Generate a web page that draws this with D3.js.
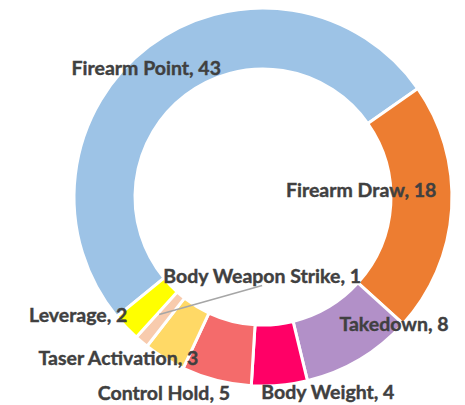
<!DOCTYPE html>
<html>
<head>
<meta charset="utf-8">
<script src="https://cdn.jsdelivr.net/npm/d3@7"></script>
<style>
  html, body { margin: 0; padding: 0; background: #fff; }
  svg { display: block; }
</style>
</head>
<body>
<svg id="chart" width="465" height="405"></svg>
<script>
const categories = ["Firearm Point", "Firearm Draw", "Takedown", "Body Weight",
  "Control Hold", "Taser Activation", "Body Weapon Strike", "Leverage"];
const values = [43, 18, 8, 4, 5, 3, 1, 2];
const colors = ["#9DC3E6", "#ED7D31", "#B290C8", "#FF0066",
  "#F46B6B", "#FFD966", "#F8CBAD", "#FFFF00"];

// label nudges from the slice centroid (layout only)
const labelShift = [[-21, -3], [-60, -17], [50, -10], [51, 37],
  [-60, 42], [-62, 25], [101, -43], [-70, 8]];

const width = 465, height = 405,
  cx = 263, cy = 197,
  outerR = 189, innerR = 128;

const svg = d3.select("#chart");
const g = svg.append("g").attr("transform", "translate(" + cx + "," + cy + ")");

const start = -129.3 * Math.PI / 180;
const pie = d3.pie().sort(null).value(d => d.value)
  .startAngle(start).endAngle(start + 2 * Math.PI);
const arc = d3.arc().innerRadius(innerR).outerRadius(outerR);

const data = categories.map((c, i) => ({ name: c, value: values[i], color: colors[i], shift: labelShift[i] }));
const arcs = pie(data);

g.selectAll("path.slice")
  .data(arcs)
  .join("path")
  .attr("class", "slice")
  .attr("d", arc)
  .attr("fill", d => d.data.color)
  .attr("stroke", "#fff")
  .attr("stroke-width", 3);

// leader line for the tiny slice
arcs.filter(d => d.data.name === "Body Weapon Strike").forEach(d => {
  const c = arc.centroid(d);
  g.append("line")
    .attr("x1", c[0] - 2).attr("y1", c[1] - 4)
    .attr("x2", c[0] + d.data.shift[0]).attr("y2", c[1] + d.data.shift[1] + 10)
    .attr("stroke", "#A6A6A6")
    .attr("stroke-width", 1.5);
});

g.selectAll("text.lbl")
  .data(arcs)
  .join("text")
  .attr("class", "lbl")
  .attr("x", d => arc.centroid(d)[0] + d.data.shift[0])
  .attr("y", d => arc.centroid(d)[1] + d.data.shift[1])
  .attr("text-anchor", "middle")
  .attr("dominant-baseline", "central")
  .attr("font-family", "Lato, 'Open Sans', sans-serif")
  .attr("font-weight", "bold")
  .attr("font-size", 19.5)
  .attr("fill", "#404040")
  .attr("stroke", "#404040")
  .attr("stroke-width", 0.4)
  .text(d => d.data.name + ", " + d.data.value);
</script>
</body>
</html>
